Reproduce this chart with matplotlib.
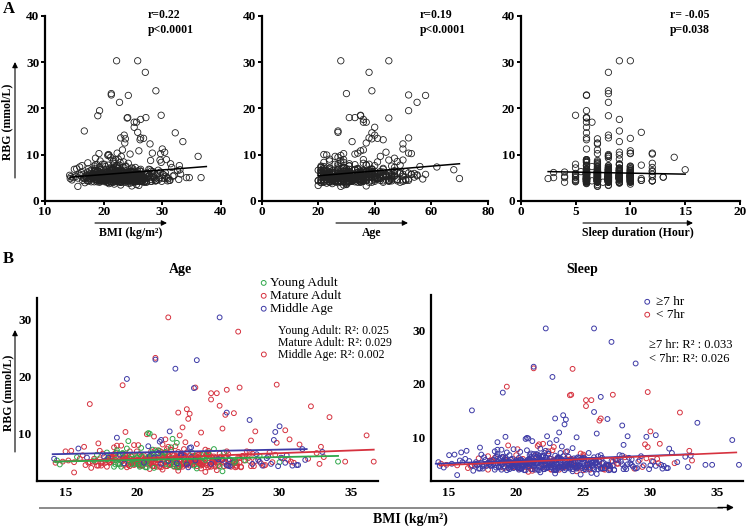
import numpy as np
import matplotlib
matplotlib.use("Agg")
import matplotlib.pyplot as plt
from matplotlib.lines import Line2D

plt.rcParams['font.family'] = ['Liberation Serif', 'DejaVu Serif']

W, H = 748, 526

# ---- data: one row per subject ----
# outliers / edge points (bmi, rbg, age, sleep hours)
bmi_o = [22.2, 25.8, 27.1, 28.9, 21.3, 21.3, 24.2, 22.7, 19.3, 19.0,
         29.8, 24.0, 24.1, 27.2, 26.3, 25.2, 25.6, 25.2, 16.7, 25.8,
         32.2, 23.5, 23.7, 22.9, 26.8, 26.2, 26.3, 33.5, 23.6, 27.9,
         30.0, 23.2, 36.1, 19.2, 22.3, 20.8, 20.9, 29.7, 30.4, 28.3,
         24.5, 26.0, 34.1, 34.6, 36.6, 32.8, 32.9, 33.1, 31.6, 30.9,
         30.7, 29.6, 15.6, 14.2]
rbg_o = [30.3, 30.3, 27.8, 23.8, 23.2, 22.9, 22.8, 21.3, 19.5, 18.4,
         18.5, 17.9, 18.0, 18.0, 17.6, 17.0, 17.0, 15.9, 15.1, 14.8,
         14.7, 14.2, 13.4, 13.6, 13.5, 13.2, 13.6, 12.8, 12.5, 12.3,
         11.2, 11.0, 9.6, 10.2, 10.3, 10.0, 9.9, 10.2, 10.5, 10.3,
         10.1, 10.8, 5.0, 5.0, 5.0, 4.6, 7.6, 5.8, 7.2, 4.3,
         8.9, 8.8, 3.1, 5.5]
age_o = [28, 45, 38, 39, 30, 52, 58, 55, 52, 35,
         35, 45, 33, 31, 36, 37, 36, 40, 27, 27,
         39, 40, 39, 38, 41, 43, 52, 32, 37, 50,
         50, 36, 42, 29, 52, 22, 23, 53, 44, 34,
         33, 35, 23, 33, 31, 35, 40, 29, 47, 48,
         36, 50, 28, 46]
sleep_o = [9, 10, 8, 8, 8, 6, 6, 8, 6, 8,
           5, 6, 6, 6, 9, 6, 6.5, 6, 9, 11,
           6, 8, 7, 8, 10, 6, 6, 9, 7, 7,
           6, 7, 8, 7, 10, 8, 9, 10, 9, 12,
           12, 10, 8, 8, 9, 7, 6, 6, 8, 7,
           6, 6, 7, 8]

# the dense cloud
bmi_c = [21.4, 18.7, 24.9, 22.1, 19.6, 26.3, 20.2, 23.8, 17.9, 25.4, 21.9, 28.1, 19.1, 22.7, 24.2, 16.8, 20.8, 27.4, 23.1, 18.3,
         25.9, 20.5, 22.4, 19.9, 29.3, 21.1, 24.6, 17.4, 23.5, 26.8, 18.9, 22.9, 20.1, 25.1, 30.2, 19.4, 21.7, 24.0, 27.9, 15.6,
         22.3, 19.2, 26.0, 20.9, 23.3, 18.1, 24.8, 21.5, 28.6, 17.2, 22.0, 25.7, 19.7, 23.9, 20.4, 26.6, 16.3, 21.2, 24.4, 29.7,
         18.5, 22.6, 20.0, 25.3, 23.0, 19.3, 27.2, 21.8, 24.1, 17.7, 26.1, 20.6, 22.8, 31.0, 19.0, 23.6, 25.6, 18.0, 21.3, 24.7,
         20.3, 27.6, 22.2, 19.8, 16.0, 23.2, 25.0, 21.0, 28.9, 18.6, 24.3, 20.7, 26.4, 22.5, 17.1, 23.7, 19.5, 25.8, 21.6, 30.6,
         14.3, 22.0, 24.5, 18.8, 26.9, 20.1, 23.4, 19.6, 27.0, 21.4, 15.2, 25.2, 22.4, 18.2, 24.0, 20.9, 28.3, 23.0, 17.5, 26.2,
         21.9, 19.4, 24.8, 22.7, 29.5, 20.4, 23.6, 18.4, 25.5, 21.2, 27.7, 19.1, 22.9, 31.4, 20.6, 24.2, 16.5, 23.3, 26.7, 21.0,
         18.0, 25.0, 22.3, 20.0, 27.3, 23.8, 19.7, 24.6, 21.7, 14.8, 26.0, 22.1, 28.0, 20.3, 23.1, 17.8, 25.3, 21.5, 19.2, 29.0,
         24.9, 20.8, 22.6, 18.6, 26.5, 21.1, 23.5, 19.9, 30.0, 22.8, 17.3, 24.4, 20.5, 25.9, 21.8, 15.9, 23.9, 27.5, 19.3, 22.0,
         32.0, 20.2, 24.1, 18.3, 22.5, 26.3, 21.3, 23.2, 19.0, 25.7, 16.6, 22.2, 28.5, 20.7, 24.7, 18.9, 23.7, 21.6, 27.1, 19.5,
         14.6, 23.0, 20.9, 25.1, 22.4, 18.7, 26.8, 21.0, 24.3, 19.8, 29.2, 22.9, 17.6, 23.4, 20.1, 25.4, 31.8, 21.4, 24.5, 18.1,
         22.7, 20.4, 26.1, 19.4, 23.6, 21.7, 28.7, 17.0, 24.0, 20.6, 22.1, 25.6, 18.5, 23.1, 30.8, 21.2, 19.6, 27.8, 22.6, 15.4,
         24.6, 21.9, 19.1, 23.3, 26.4, 20.3, 22.4, 18.2, 25.2, 21.5, 16.9, 24.2, 20.0, 29.8, 22.8, 19.7, 23.8, 27.0, 21.1, 17.4,
         33.0, 20.5, 23.5, 22.0, 18.8, 25.8, 21.6, 24.8, 19.2, 26.9, 20.8, 22.3, 28.2, 17.9, 23.0, 31.2, 21.8, 24.4, 19.9, 14.4,
         22.5, 25.5, 20.2, 23.9, 18.4, 21.3, 27.4, 22.9, 19.5, 24.1, 30.4, 20.7, 26.2, 23.2, 16.2, 21.0, 25.0, 18.6, 22.2, 32.6]
rbg_c = [5.2, 4.6, 6.1, 4.9, 5.5, 6.8, 4.3, 5.8, 4.1, 7.2, 5.0, 6.4, 4.7, 5.3, 8.1, 3.9, 5.6, 6.0, 4.4, 5.1,
         5.9, 4.8, 7.5, 5.4, 6.6, 4.2, 5.7, 6.9, 4.5, 5.0, 7.8, 4.0, 5.3, 6.2, 5.6, 8.6, 4.6, 5.1, 6.7, 4.9,
         4.4, 6.3, 5.5, 3.7, 5.8, 4.9, 7.1, 5.2, 6.0, 4.3, 8.9, 5.4, 4.7, 6.5, 5.0, 4.1, 7.6, 5.7, 4.8, 6.2,
         5.3, 4.5, 6.8, 5.1, 4.0, 7.3, 5.6, 4.6, 6.1, 5.9, 4.2, 5.4, 8.3, 4.8, 6.4, 5.0, 3.5, 5.7, 7.0, 4.9,
         6.0, 5.2, 4.4, 7.9, 5.5, 4.7, 6.6, 5.1, 4.3, 9.2, 5.8, 4.0, 6.3, 5.4, 4.9, 7.4, 5.6, 4.2, 6.9, 5.3,
         4.8, 5.7, 3.8, 6.2, 5.0, 4.5, 8.4, 5.9, 4.1, 6.7, 5.2, 4.6, 7.1, 5.5, 4.3, 6.0, 5.1, 9.6, 4.7, 5.8,
         6.5, 4.4, 5.3, 7.7, 4.9, 5.6, 4.0, 6.3, 5.2, 3.9, 6.8, 5.4, 4.6, 8.0, 5.0, 4.2, 5.7, 7.2, 4.8, 6.1,
         5.1, 6.9, 4.5, 5.8, 4.1, 7.5, 5.3, 4.7, 6.4, 5.0, 3.3, 5.6, 8.7, 4.3, 6.0, 5.2, 4.8, 7.0, 5.5, 4.4,
         6.2, 5.0, 4.6, 7.8, 5.4, 4.2, 6.6, 5.1, 4.9, 5.7, 8.2, 4.5, 6.1, 5.3, 3.6, 7.3, 4.8, 5.9, 4.0, 6.7,
         5.5, 4.7, 6.0, 5.2, 9.0, 4.4, 5.8, 4.1, 6.5, 5.0, 4.8, 7.6, 5.3, 4.6, 6.3, 5.1, 4.3, 8.5, 5.7, 4.9,
         4.5, 6.1, 5.4, 4.2, 7.0, 5.6, 4.8, 6.8, 5.1, 4.4, 5.9, 3.4, 6.4, 5.0, 7.9, 4.6, 5.3, 4.1, 6.2, 5.7,
         5.8, 4.3, 6.6, 5.2, 4.9, 8.8, 4.7, 5.5, 6.0, 4.0, 7.2, 5.4, 4.5, 6.3, 5.0, 9.4, 4.8, 5.6, 4.2, 6.9,
         4.9, 5.7, 4.4, 6.2, 5.3, 7.4, 4.6, 5.9, 4.1, 6.5, 5.0, 3.8, 5.6, 8.3, 4.7, 6.1, 5.2, 4.3, 7.1, 5.4,
         6.7, 5.1, 4.8, 5.8, 4.5, 6.4, 5.3, 3.2, 6.0, 4.9, 7.7, 5.5, 4.2, 6.6, 5.0, 4.4, 8.0, 5.7, 4.6, 5.2,
         5.4, 4.1, 6.3, 5.0, 7.5, 4.7, 5.9, 4.3, 6.8, 5.2, 4.8, 9.8, 5.6, 4.5, 6.1, 5.3, 4.0, 7.0, 5.1, 6.5]
age_c = [28, 22, 35, 41, 24, 31, 26, 47, 33, 21, 38, 29, 52, 23, 36, 27, 44, 30, 25, 39,
         32, 46, 21, 34, 27, 40, 23, 30, 50, 26, 37, 22, 29, 43, 33, 24, 48, 31, 28, 35,
         20, 38, 30, 25, 45, 32, 27, 42, 23, 36, 29, 55, 34, 21, 40, 26, 31, 46, 28, 37,
         24, 33, 43, 27, 30, 21, 39, 35, 26, 49, 32, 28, 22, 41, 36, 25, 30, 53, 34, 29,
         31, 23, 37, 26, 44, 33, 20, 38, 28, 47, 35, 24, 30, 42, 27, 56, 32, 22, 39, 29,
         36, 25, 30, 48, 22, 34, 41, 27, 31, 24, 38, 51, 29, 33, 21, 45, 35, 26, 40, 28,
         30, 42, 23, 37, 26, 32, 49, 28, 35, 21, 39, 27, 44, 31, 25, 36, 58, 29, 33, 24,
         27, 34, 40, 22, 31, 46, 25, 37, 29, 33, 20, 43, 28, 35, 52, 26, 30, 24, 38, 32,
         39, 29, 23, 33, 47, 27, 36, 31, 21, 42, 28, 34, 25, 40, 30, 62, 26, 35, 43, 22,
         33, 26, 38, 30, 24, 45, 29, 35, 22, 41, 31, 27, 50, 34, 23, 37, 28, 48, 32, 25,
         21, 36, 31, 27, 43, 30, 24, 39, 33, 26, 54, 29, 35, 22, 38, 32, 46, 28, 25, 41,
         34, 28, 23, 37, 30, 45, 26, 33, 40, 21, 29, 36, 24, 51, 31, 27, 42, 35, 22, 30,
         25, 38, 32, 28, 44, 22, 35, 30, 26, 47, 33, 23, 39, 29, 57, 31, 27, 36, 24, 43,
         68, 30, 26, 34, 22, 40, 28, 37, 31, 25, 49, 33, 29, 21, 36, 52, 27, 44, 32, 23,
         29, 35, 24, 42, 31, 27, 38, 20, 33, 46, 70, 28, 36, 25, 30, 40, 34, 22, 54, 30]
sleep_c = [8, 6, 7, 10, 8, 9, 6, 7, 5, 8, 10, 6, 7, 8, 12, 9, 6, 8, 7, 10,
           7, 8, 6, 9, 10, 5, 8, 7, 6, 8, 9, 7, 4, 8, 10, 6, 7, 9, 8, 6,
           8, 7, 10, 6, 9, 8, 5, 7, 8, 12, 6, 10, 7, 8, 9, 6, 8, 7, 11, 6,
           7, 9, 6, 8, 10, 7, 6, 8, 3, 9, 7, 8, 6, 10, 8, 5, 7, 6, 9, 8,
           10, 6, 8, 7, 9, 8, 6, 7, 12, 8, 6, 10, 7, 9, 8, 6.5, 7, 8, 10, 6,
           8, 7, 6, 9, 8, 10, 7, 5, 8, 6, 9, 7, 8, 6, 10, 7, 13, 8, 9, 6,
           7, 8, 10, 6, 8, 7, 9, 5.5, 8, 6, 7, 10, 8, 9, 6, 7, 8, 12, 6, 10,
           9, 6, 8, 7, 10, 8, 6, 7, 9, 4, 8, 6, 7, 10, 8, 7, 6, 9, 8, 11,
           6, 8, 7, 9, 8, 6, 10, 7, 8, 5, 7, 8, 6, 9, 10, 7, 8, 6, 7.5, 8,
           7, 10, 6, 8, 9, 7, 8, 6, 10, 8, 2.5, 7, 9, 6, 8, 10, 7, 6, 8, 9,
           8, 6, 9, 7, 8, 10, 6, 8, 7, 9, 6, 8, 10, 7, 5, 8, 6, 9, 7, 12,
           6, 8, 7, 10, 9, 6, 8, 7, 6, 8, 10, 9, 7, 6, 8, 14, 7, 8, 6, 10,
           8, 7, 6, 9, 8, 10, 7, 6, 8, 7, 3, 9, 8, 6, 10, 7, 8, 6.5, 9, 7,
           15, 8, 6, 7, 10, 8, 9, 7, 6, 8, 11, 7, 8, 6, 9, 10, 7, 8, 6, 5,
           8, 6, 7, 9, 10, 8, 6, 7, 8, 12, 9, 8, 6, 7, 10, 8, 4, 7, 13, 9]

# more of the cloud core (rbg 4-7)
bmi_c2 = [20.6, 23.4, 18.2, 25.7, 21.8, 19.5, 24.3, 22.0, 27.6, 17.6, 21.3, 26.4, 19.0, 23.7, 20.9, 25.2, 22.6, 18.8, 28.4, 24.0,
          19.8, 22.4, 26.9, 21.0, 17.0, 23.9, 20.3, 25.5, 22.8, 18.6, 24.7, 21.5, 29.9, 19.3, 23.1, 27.0, 20.7, 16.4, 22.2, 25.9,
          23.3, 18.4, 21.7, 26.2, 20.0, 24.5, 19.6, 22.9, 28.8, 21.2, 17.8, 25.0, 23.6, 20.4, 26.7, 22.1, 19.1, 24.9, 30.5, 21.6,
          24.4, 20.8, 17.3, 22.5, 25.3, 19.4, 23.0, 27.3, 21.1, 18.0, 24.2, 22.7, 20.2, 26.0, 15.0, 23.5, 21.9, 28.0, 19.7, 25.6,
          22.3, 26.6, 19.9, 23.8, 21.4, 17.5, 24.6, 20.5, 29.4, 22.6, 18.9, 25.4, 21.0, 23.2, 27.9, 20.1, 24.1, 16.7, 22.0, 26.5,
          21.5, 18.1, 23.7, 25.1, 20.0, 22.8, 27.5, 19.2, 24.8, 21.8, 31.3, 23.0, 18.5, 26.3, 20.6, 22.4, 25.8, 19.8, 24.3, 28.6,
          20.2, 23.9, 21.2, 17.9, 26.1, 22.2, 19.0, 24.6, 20.9, 27.2, 23.4, 18.7, 25.3, 21.6, 29.1, 22.9, 20.4, 24.0, 15.8, 23.6,
          25.0, 21.7, 19.4, 22.6, 28.1, 20.8, 24.5, 18.3, 23.1, 26.8, 21.3, 19.6, 24.9, 22.1, 30.1, 20.0, 23.3, 17.2, 25.7, 21.9]
rbg_c2 = [5.0, 4.4, 5.7, 4.8, 6.1, 4.2, 5.3, 4.6, 5.9, 4.9, 5.5, 4.3, 6.4, 5.1, 4.7, 5.8, 4.1, 5.4, 6.3, 4.5,
          4.8, 5.6, 4.0, 6.0, 5.2, 4.6, 5.9, 4.3, 5.1, 6.6, 4.9, 5.4, 4.2, 5.7, 6.2, 4.7, 5.0, 4.4, 5.8, 5.3,
          5.5, 4.1, 6.7, 4.9, 5.2, 4.5, 6.0, 5.6, 4.3, 5.0, 4.8, 6.3, 4.6, 5.9, 5.1, 4.2, 5.7, 4.4, 6.1, 5.3,
          4.7, 5.8, 4.3, 6.2, 5.0, 4.5, 5.4, 4.0, 6.5, 5.2, 4.9, 5.6, 4.1, 5.3, 6.8, 4.6, 5.9, 4.2, 5.1, 5.7,
          6.0, 4.4, 5.2, 4.8, 5.7, 4.3, 6.4, 5.0, 4.6, 5.5, 4.1, 5.9, 4.7, 6.3, 5.1, 4.5, 5.4, 4.9, 6.6, 4.2,
          5.3, 4.8, 6.1, 4.5, 5.6, 4.0, 5.2, 6.0, 4.7, 5.8, 4.4, 5.1, 6.5, 4.3, 5.5, 4.9, 5.7, 4.6, 6.2, 5.0,
          4.5, 5.9, 4.2, 5.4, 4.8, 6.3, 5.1, 4.4, 5.7, 4.9, 6.0, 4.6, 5.3, 4.1, 5.6, 6.7, 4.3, 5.0, 5.8, 4.7,
          5.6, 4.0, 5.2, 6.1, 4.6, 5.5, 4.3, 5.9, 6.4, 4.8, 5.3, 4.5, 6.0, 4.2, 5.7, 5.0, 4.7, 6.2, 4.4, 5.1]
age_c2 = [23, 31, 27, 36, 21, 29, 34, 24, 40, 26, 30, 45, 22, 33, 28, 38, 25, 32, 47, 35,
          27, 22, 39, 30, 24, 36, 28, 43, 32, 21, 37, 26, 50, 29, 34, 41, 23, 31, 25, 38,
          30, 24, 33, 42, 26, 35, 22, 29, 46, 31, 27, 39, 34, 21, 44, 28, 32, 25, 49, 36,
          33, 23, 28, 37, 30, 25, 41, 35, 22, 29, 36, 31, 24, 47, 27, 34, 40, 26, 32, 53,
          28, 39, 25, 32, 22, 30, 37, 27, 48, 33, 24, 36, 29, 42, 31, 23, 35, 26, 38, 45,
          31, 26, 34, 29, 21, 38, 44, 27, 33, 24, 51, 30, 25, 36, 28, 40, 32, 23, 35, 46,
          24, 35, 29, 22, 41, 31, 26, 37, 28, 33, 39, 25, 43, 30, 55, 34, 27, 36, 21, 32,
          38, 29, 23, 34, 46, 27, 32, 25, 36, 42, 30, 22, 39, 28, 50, 33, 26, 24, 37, 31]
sleep_c2 = [7, 8, 6, 9, 8, 7, 10, 6, 8, 7, 9, 8, 6, 7, 10, 8, 6, 9, 7, 8,
            8, 6, 9, 7, 10, 8, 7, 6, 8, 9, 7, 10, 8, 6, 7, 9, 8, 5, 10, 7,
            9, 7, 8, 6, 8, 10, 7, 9, 6, 8, 7, 12, 6, 8, 9, 7, 10, 8, 6, 7,
            6, 8, 7, 10, 9, 6, 8, 7, 12, 8, 6, 9, 7, 10, 8, 5, 7, 8, 6, 9,
            10, 7, 8, 6, 9, 8, 7, 10, 6, 7, 8, 9, 6, 8, 10, 7, 5, 8, 9, 6,
            8, 9, 6, 7, 10, 8, 6, 9, 7, 8, 11, 6, 8, 7, 9, 10, 8, 6, 7, 8,
            7, 6, 10, 8, 9, 7, 8, 6, 10, 9, 7, 8, 6, 7, 8, 9, 12, 6, 8, 7,
            9, 8, 7, 6, 8, 10, 7, 8, 9, 6, 7, 8, 10, 7, 6, 8, 9, 4, 8, 6]

# regression lines as drawn in the figure (x ends, y ends)
fit_bmi = ([14.3, 37.5], [5.1, 7.4])
fit_age = ([20, 70], [5.4, 8.0])
fit_sleep = ([2.5, 15], [6.3, 5.75])
fit_b_age = {'Young Adult': ([14.2, 34.1], [5.0, 6.0]),
             'Mature Adult': ([14.2, 36.6], [5.0, 7.1]),
             'Middle Age': ([14.1, 31.9], [6.3, 7.2])}
fit_b_sleep = {'\u22657 hr': ([14.0, 33.2], [5.2, 7.0]),
               '< 7hr': ([14.3, 36.4], [4.9, 7.3])}

stats_a = ['r=0.22\np<0.0001', 'r=0.19\np<0.0001', 'r= -0.05\np=0.038']
r2_age = 'Young Adult: R\u00b2: 0.025\nMature Adult: R\u00b2: 0.029\nMiddle Age: R\u00b2: 0.002'
r2_sleep = '\u22657 hr: R\u00b2 : 0.033\n< 7hr: R\u00b2: 0.026'

for name, arr in [('rbg', rbg_c), ('age', age_c), ('sleep', sleep_c)]:
    assert len(arr) == len(bmi_c), (name, len(arr), len(bmi_c))
for name, arr in [('rbg', rbg_c2), ('age', age_c2), ('sleep', sleep_c2)]:
    assert len(arr) == len(bmi_c2), (name, len(arr), len(bmi_c2))
for name, arr in [('rbg', rbg_o), ('age', age_o), ('sleep', sleep_o)]:
    assert len(arr) == len(bmi_o), (name, len(arr), len(bmi_o))

bmi = np.array(bmi_c + bmi_c2 + bmi_o)
rbg = np.array(rbg_c + rbg_c2 + rbg_o)
age = np.array(age_c + age_c2 + age_o)
sleep = np.array(sleep_c + sleep_c2 + sleep_o)

age_groups = {'Young Adult': age < 25,
              'Mature Adult': (age >= 25) & (age < 45),
              'Middle Age': age >= 45}
sleep_groups = {'\u22657 hr': sleep >= 7, '< 7hr': sleep < 7}

GREEN, RED, BLUE = '#2fa84a', '#d6323f', '#3d3aa6'
age_colors = {'Young Adult': GREEN, 'Mature Adult': RED, 'Middle Age': BLUE}
sleep_colors = {'\u22657 hr': BLUE, '< 7hr': RED}


def fx(x):
    return x / W


def fy(y):
    return 1 - y / H


def arrow(x0, y0, x1, y1, color='black', lw=0.8, ms=8):
    fig.add_artist(plt.Annotation('', xy=(fx(x1), fy(y1)), xytext=(fx(x0), fy(y0)),
                                  xycoords='figure fraction',
                                  arrowprops=dict(arrowstyle='-|>', color=color, lw=lw,
                                                  mutation_scale=ms, shrinkA=0, shrinkB=0)))


fig = plt.figure(figsize=(W / 100, H / 100), dpi=100)

# ---------------- panel A ----------------
a_boxes = [(45, 221), (261.7, 487.7), (520.7, 740)]
a_x = [bmi, age, sleep]
a_lim = [(10, 40), (0, 80), (0, 20)]
a_ticks = [[10, 20, 30, 40], [0, 20, 40, 60, 80], [0, 5, 10, 15, 20]]
a_fit = [fit_bmi, fit_age, fit_sleep]
a_stat_x = [0.585, 0.70, 0.68]
a_xlabel = ['BMI (kg/m\u00b2)', 'Age', 'Sleep duration (Hour)']
a_arrow = [(95, 167), (336, 408), (583, 693)]

for i in range(3):
    x0, x1 = a_boxes[i]
    ax = fig.add_axes([fx(x0), fy(200.7), (x1 - x0) / W, (200.7 - 16) / H])
    ax.scatter(a_x[i], rbg, s=21, facecolors='none', edgecolors='#222222',
               linewidths=0.6, zorder=2)
    ax.plot(*a_fit[i], color='black', lw=1.1, zorder=3)
    ax.set_xlim(*a_lim[i])
    ax.set_ylim(0, 40)
    ax.set_xticks(a_ticks[i])
    ax.set_yticks([0, 10, 20, 30, 40])
    for s in ['top', 'right']:
        ax.spines[s].set_visible(False)
    for s in ['left', 'bottom']:
        ax.spines[s].set_linewidth(1.6)
    ax.tick_params(direction='out', length=3, width=1.4, labelsize=9.5, pad=1)
    for lab in ax.get_xticklabels() + ax.get_yticklabels():
        lab.set_fontweight('bold')
    ax.text(a_stat_x[i], 1.04, stats_a[i], transform=ax.transAxes, ha='left',
            va='top', fontsize=8.5, fontweight='bold', linespacing=1.35)
    # arrow + label under the axis
    ax0, ax1 = a_arrow[i]
    arrow(ax0, 223, ax1, 223)
    fig.text(fx((ax0 + ax1) / 2), fy(233), a_xlabel[i], ha='center', va='center',
             fontsize=8.5, fontweight='bold')

fig.text(fx(7), fy(122), 'RBG (mmol/L)', rotation=90, ha='center', va='center',
         fontsize=8.5, fontweight='bold')
arrow(15, 178, 15, 62)
fig.text(fx(3), fy(9), 'A', ha='left', va='center', fontsize=12, fontweight='bold')

# ---------------- panel B ----------------
def style_b(ax):
    for s in ['top', 'right']:
        ax.spines[s].set_visible(False)
    for s in ['left', 'bottom']:
        ax.spines[s].set_linewidth(1.6)
    ax.tick_params(length=0, labelsize=9.5, pad=4)
    for lab in ax.get_xticklabels() + ax.get_yticklabels():
        lab.set_fontweight('bold')


axb1 = fig.add_axes([fx(37), fy(481), 341 / W, 183 / H])
zorders = {'Mature Adult': 2, 'Young Adult': 2.1, 'Middle Age': 2.2}
for g, mask in age_groups.items():
    axb1.scatter(bmi[mask], rbg[mask], s=12, facecolors='none',
                 edgecolors=age_colors[g], linewidths=0.7, label=g, zorder=zorders[g])
for g in ['Middle Age', 'Mature Adult', 'Young Adult']:
    axb1.plot(*fit_b_age[g], color=age_colors[g], lw=1.3, zorder=3)
axb1.set_xlim(13.0, 36.9)
axb1.set_ylim(1.6, 33.7)
axb1.set_xticks([15, 20, 25, 30, 35])
axb1.set_yticks([10, 20, 30])
style_b(axb1)
axb1.legend(loc='upper left', bbox_to_anchor=(0.63, 1.15), frameon=False,
            handletextpad=0.05, labelspacing=0.05, borderpad=0, handlelength=0.8,
            fontsize=9.5, markerscale=1.0)
axb1.text(0.707, 0.85, r2_age, transform=axb1.transAxes, ha='left', va='top',
          fontsize=8.5, linespacing=1.0)

axb2 = fig.add_axes([fx(431), fy(481), 312 / W, 186 / H])
for g in ['< 7hr', '\u22657 hr']:
    mask = sleep_groups[g]
    axb2.scatter(bmi[mask], rbg[mask], s=12, facecolors='none',
                 edgecolors=sleep_colors[g], linewidths=0.7, label=g, zorder=2)
for g in ['\u22657 hr', '< 7hr']:
    axb2.plot(*fit_b_sleep[g], color=sleep_colors[g], lw=1.2, zorder=3)
axb2.set_xlim(13.65, 36.9)
axb2.set_ylim(2.0, 36.5)
axb2.set_xticks([15, 20, 25, 30, 35])
axb2.set_yticks([10, 20, 30])
style_b(axb2)
h, l = axb2.get_legend_handles_labels()
axb2.legend(h[::-1], l[::-1], loc='upper left', bbox_to_anchor=(0.655, 1.03),
            frameon=False, handletextpad=0.3, labelspacing=0.05, borderpad=0,
            handlelength=0.8, fontsize=9.5)
axb2.text(0.70, 0.765, r2_sleep, transform=axb2.transAxes, ha='left', va='top',
          fontsize=9, linespacing=1.2)

fig.text(fx(180), fy(270), 'Age', ha='center', va='center', fontsize=10, fontweight='bold')
fig.text(fx(582), fy(270), 'Sleep', ha='center', va='center', fontsize=10, fontweight='bold')
fig.text(fx(3), fy(259), 'B', ha='left', va='center', fontsize=12, fontweight='bold')

fig.text(fx(8), fy(393), 'RBG (mmol/L)', rotation=90, ha='center', va='center',
         fontsize=8.5, fontweight='bold')
arrow(15, 452, 15, 330)

fig.add_artist(Line2D([fx(40), fx(722)], [fy(507.5), fy(507.5)], color='#8a8a8a', lw=1.4))
arrow(718, 507.5, 734, 507.5, lw=1.0, ms=9)
fig.text(fx(410), fy(519), 'BMI (kg/m\u00b2)', ha='center', va='center',
         fontsize=10, fontweight='bold')

fig.savefig('out.png', dpi=100)
